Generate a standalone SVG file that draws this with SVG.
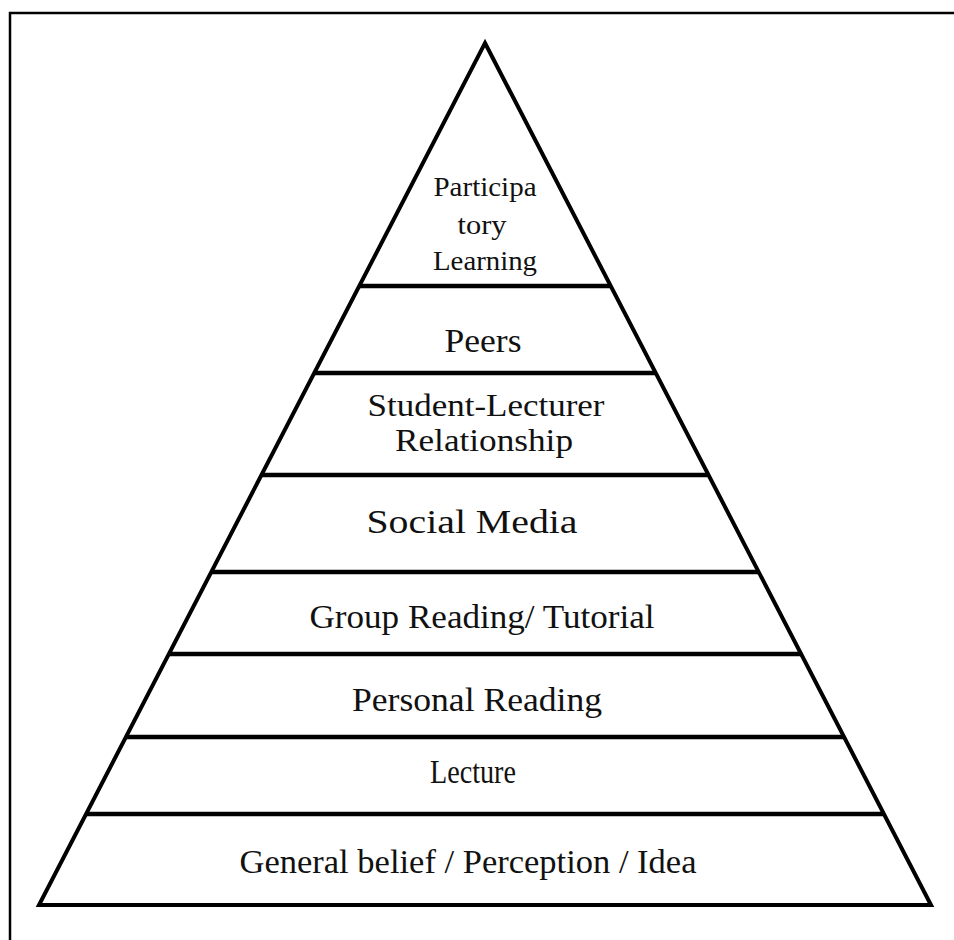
<svg xmlns="http://www.w3.org/2000/svg" width="954" height="940" viewBox="0 0 954 940">
<style>
.frame{stroke:#000;stroke-width:2.5;fill:none}
.tri{stroke:#000;stroke-width:4;fill:#fff;stroke-linejoin:miter}
.div{stroke:#000;stroke-width:4.5}
text{font-family:"Liberation Serif","Times New Roman",serif;fill:#111;text-anchor:middle}
.l{font-size:34px}
.m{font-size:31px}
.s{font-size:28px}
</style>
<rect width="954" height="940" fill="#fff"/>
<path class="frame" d="M10,940 V13 H954"/>
<g id="pyramid">
<polygon class="tri" points="485,43 931,905 39,905"/>
</g>
<g id="connectors">
<line class="div" x1="359.3" y1="286" x2="610.7" y2="286"/>
<line class="div" x1="314.3" y1="373" x2="655.7" y2="373"/>
<line class="div" x1="261.5" y1="475" x2="708.5" y2="475"/>
<line class="div" x1="211.3" y1="572" x2="758.7" y2="572"/>
<line class="div" x1="168.9" y1="654" x2="801.1" y2="654"/>
<line class="div" x1="125.9" y1="737" x2="844.1" y2="737"/>
<line class="div" x1="86.1" y1="814" x2="883.9" y2="814"/>
</g>
<g id="participatory">
<text class="s" x="485" y="196" textLength="103" lengthAdjust="spacingAndGlyphs">Participa</text>
<text class="s" x="482" y="234" textLength="49" lengthAdjust="spacingAndGlyphs">tory</text>
<text class="s" x="485" y="270" textLength="104" lengthAdjust="spacingAndGlyphs">Learning</text>
</g>
<g id="peers">
<text class="l" x="483" y="352" textLength="77" lengthAdjust="spacingAndGlyphs">Peers</text>
</g>
<g id="student-lecturer">
<text class="m" x="486" y="416" textLength="237" lengthAdjust="spacingAndGlyphs">Student-Lecturer</text>
<text class="m" x="484" y="451" textLength="178" lengthAdjust="spacingAndGlyphs">Relationship</text>
</g>
<g id="social-media">
<text class="l" x="472" y="533" textLength="211" lengthAdjust="spacingAndGlyphs">Social Media</text>
</g>
<g id="group-reading">
<text class="l" x="482" y="628" textLength="345" lengthAdjust="spacingAndGlyphs">Group Reading/ Tutorial</text>
</g>
<g id="personal-reading">
<text class="l" x="477" y="711" textLength="250" lengthAdjust="spacingAndGlyphs">Personal Reading</text>
</g>
<g id="lecture">
<text class="l" x="473" y="783" textLength="86" lengthAdjust="spacingAndGlyphs">Lecture</text>
</g>
<g id="general-belief">
<text class="l" x="468" y="873" textLength="457" lengthAdjust="spacingAndGlyphs">General belief / Perception / Idea</text>
</g>
</svg>
